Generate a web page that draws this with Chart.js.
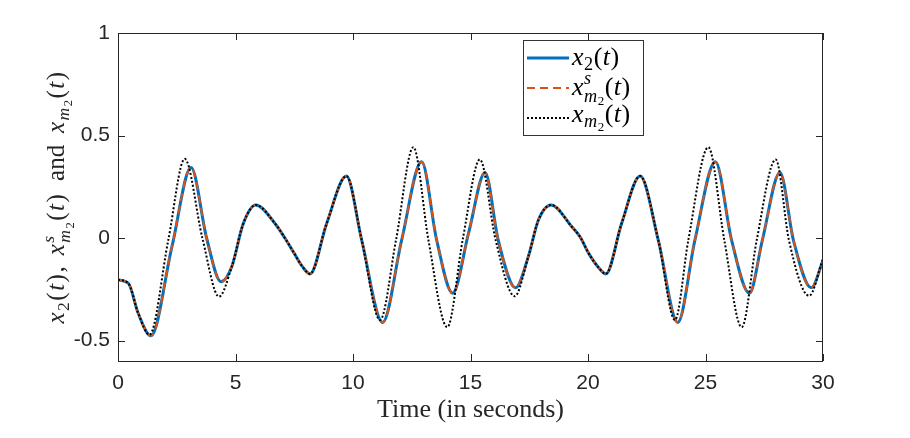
<!DOCTYPE html>
<html>
<head>
<meta charset="utf-8">
<title>x2(t) and model outputs</title>
<script src="https://cdn.jsdelivr.net/npm/chart.js@4.4.0/dist/chart.umd.min.js"></script>
<style>
  html, body { margin: 0; padding: 0; background: #fff; }
  canvas { display: block; }
</style>
</head>
<body>
<canvas id="trajChart" width="910" height="438"></canvas>
<script>
// --- values (time in s) ---
const tX2 = [0, 0.44, 0.86, 1.40, 2.30, 3.11, 3.77, 4.38, 4.84, 5.33, 5.86, 6.68, 7.10, 7.50, 7.85, 8.17,
  8.88, 9.72, 10.37, 11.26, 12.07, 12.92, 13.56, 14.24, 14.93, 15.62, 16.18, 16.92, 17.46, 17.89, 18.43,
  19.31, 19.66, 20.03, 20.42, 20.76, 21.43, 22.22, 22.99, 23.82, 24.55, 25.42, 26.11, 26.87, 27.42,
  28.17, 28.74, 29.50, 30];
const x2 = [-0.204, -0.221, -0.367, -0.477, -0.04, 0.344, 0.0, -0.213, -0.14, 0.07, 0.161, 0.071, 0.0, -0.075, -0.14, -0.175,
  0.071, 0.302, -0.01, -0.412, -0.01, 0.372, -0.01, -0.269, 0.03, 0.32, -0.01, -0.243, -0.091, 0.088, 0.161,
  0.055, 0.006, -0.075, -0.14, -0.175, 0.071, 0.302, -0.01, -0.412, -0.01, 0.372, -0.01, -0.27, -0.01,
  0.32, -0.01, -0.243, -0.11];
// dashed curve lies right on top of x2 in the picture
const xsM2 = [-0.204, -0.221, -0.367, -0.477, -0.04, 0.344, 0.0, -0.213, -0.14, 0.07, 0.161, 0.071, 0.0, -0.075, -0.14, -0.175,
  0.071, 0.302, -0.01, -0.412, -0.01, 0.372, -0.01, -0.269, 0.03, 0.32, -0.01, -0.243, -0.091, 0.088, 0.161,
  0.055, 0.006, -0.075, -0.14, -0.175, 0.071, 0.302, -0.01, -0.412, -0.01, 0.372, -0.01, -0.27, -0.01,
  0.32, -0.01, -0.243, -0.11];

const tXm2 = [0, 0.44, 0.86, 1.34, 2.14, 2.84, 3.59, 4.30, 4.84, 5.33, 5.86, 6.68, 7.10, 7.50, 7.85, 8.17,
  8.88, 9.72, 10.37, 11.15, 11.83, 12.57, 13.21, 14.01, 14.68, 15.40, 16.07, 16.88, 17.46, 17.89, 18.43,
  19.31, 19.66, 20.03, 20.42, 20.76, 21.43, 22.22, 22.99, 23.70, 24.27, 25.12, 25.80, 26.54, 27.18,
  27.99, 28.55, 29.41, 30];
const xm2 = [-0.204, -0.221, -0.367, -0.472, -0.01, 0.386, 0.0, -0.286, -0.14, 0.07, 0.161, 0.071, 0.0, -0.075, -0.14, -0.175,
  0.071, 0.302, -0.01, -0.40, -0.01, 0.443, -0.01, -0.435, 0.0, 0.383, -0.01, -0.284, -0.091, 0.088, 0.161,
  0.055, 0.006, -0.075, -0.14, -0.175, 0.071, 0.302, -0.01, -0.40, -0.01, 0.443, -0.01, -0.435, -0.01,
  0.383, -0.01, -0.282, -0.10];

const xTicks = [0, 5, 10, 15, 20, 25, 30];
const yTicks = [-0.5, 0, 0.5, 1];

const axisColor = '#262626';
const blue = '#0072BD';
const orange = '#D95319';

function toPoints(ts, vs) {
  return ts.map((t, i) => ({ x: t, y: vs[i] }));
}

// --- tiny math-text helper: pieces with italic / size factor / baseline shift ---
const SERIF = '"Liberation Serif", "Times New Roman", serif';
const X2_TXT = [{ s: 'x', it: 1 }, { s: '2', k: 0.7, dy: 0.2 }, { s: '(' }, { s: 't', it: 1 }, { s: ')' }];
const XSM2_TXT = [{ s: 'x', it: 1 }, { s: 's', it: 1, k: 0.7, dy: -0.42, adv: false },
  { s: 'm', it: 1, k: 0.7, dy: 0.25 }, { s: '2', k: 0.5, dy: 0.38 }, { s: '(' }, { s: 't', it: 1 }, { s: ')' }];
const XM2_TXT = [{ s: 'x', it: 1 }, { s: 'm', it: 1, k: 0.7, dy: 0.2 }, { s: '2', k: 0.5, dy: 0.33 },
  { s: '(' }, { s: 't', it: 1 }, { s: ')' }];
// separators take up the slack ("flex") when the label is stretched; lead = share of slack before the text
const YLABEL_TXT = [].concat(X2_TXT, [{ s: ',', flex: 1, lead: 0 }], XSM2_TXT,
  [{ s: ' and ', flex: 1, lead: 0.5 }], XM2_TXT);

// draws (or just measures) pieces; pad = extra px after every piece, gap = slack for "flex" pieces
function mathText(ctx, parts, x, y, size, draw, gap, pad) {
  let cx = x;
  gap = gap || 0;
  pad = pad || 0;
  parts.forEach(p => {
    const fs = size * (p.k || 1);
    ctx.font = (p.it ? 'italic ' : '') + fs + 'px ' + SERIF;
    const before = p.flex ? gap * p.lead : 0;
    if (draw) ctx.fillText(p.s, cx + before, y + (p.dy || 0) * size);
    if (p.adv !== false) cx += ctx.measureText(p.s).width + (p.flex ? gap : pad);
  });
  return cx - x;
}

function fitGap(ctx, parts, size, target, pad) {
  const w = mathText(ctx, parts, 0, 0, size, false, 0, pad);
  const n = parts.filter(p => p.flex).length;
  return n ? Math.max(0, (target - w) / n) : 0;
}

const framePlugin = {
  id: 'frame',
  afterDraw(chart) {
    const ctx = chart.ctx;
    const a = chart.chartArea;
    const xs = chart.scales.x, ys = chart.scales.y;
    ctx.save();

    // box and inward ticks on all four sides
    ctx.strokeStyle = axisColor;
    ctx.lineWidth = 1;
    ctx.strokeRect(a.left + 0.5, a.top + 0.5, a.right - a.left - 1, a.bottom - a.top);
    const tl = 7;
    ctx.beginPath();
    xTicks.forEach(v => {
      const px = Math.round(xs.getPixelForValue(v)) + 0.5;
      ctx.moveTo(px, a.bottom); ctx.lineTo(px, a.bottom - tl);
      ctx.moveTo(px, a.top); ctx.lineTo(px, a.top + tl);
    });
    yTicks.forEach(v => {
      const py = Math.round(ys.getPixelForValue(v)) + 0.5;
      ctx.moveTo(a.left, py); ctx.lineTo(a.left + tl, py);
      ctx.moveTo(a.right, py); ctx.lineTo(a.right - tl, py);
    });
    ctx.stroke();

    ctx.fillStyle = axisColor;
    ctx.textBaseline = 'alphabetic';
    ctx.textAlign = 'left';

    // x axis title
    ctx.font = '26px ' + SERIF;
    const xt = 'Time (in seconds)';
    const xfs = 26 * 187 / ctx.measureText(xt).width;
    ctx.font = xfs + 'px ' + SERIF;
    ctx.textAlign = 'center';
    ctx.fillText(xt, (a.left + a.right) / 2, 417);
    ctx.textAlign = 'left';

    // y axis title (rotated)
    const ySize = 25, yPad = 1.5;
    const yGap = fitGap(ctx, YLABEL_TXT, ySize, 253, yPad);
    ctx.save();
    ctx.translate(64, (a.top + a.bottom) / 2);
    ctx.rotate(-Math.PI / 2);
    mathText(ctx, YLABEL_TXT, -253 / 2, 0, ySize, true, yGap, yPad);
    ctx.restore();

    // legend
    ctx.fillStyle = '#fff';
    ctx.fillRect(523, 41, 121, 95);
    ctx.strokeStyle = '#333';
    ctx.lineWidth = 1;
    ctx.strokeRect(523.5, 40.5, 120, 95);
    const rows = [
      { y: 58, color: blue, w: 3, dash: [], txt: X2_TXT, base: 65 },
      { y: 88, color: orange, w: 2, dash: [8, 5], txt: XSM2_TXT, base: 95 },
      { y: 118, color: '#000', w: 2, dash: [2, 2], txt: XM2_TXT, base: 122 }
    ];
    const lSize = 26;
    rows.forEach(r => {
      ctx.beginPath();
      ctx.strokeStyle = r.color;
      ctx.lineWidth = r.w;
      ctx.setLineDash(r.dash);
      ctx.moveTo(527, r.y); ctx.lineTo(569, r.y);
      ctx.stroke();
      ctx.setLineDash([]);
      ctx.fillStyle = '#000';
      mathText(ctx, r.txt, 572, r.base, lSize, true, 0, 0.5);
    });
    ctx.restore();
  }
};

const tickFont = { family: '"Liberation Sans", Arial, sans-serif', size: 21 };

new Chart(document.getElementById('trajChart').getContext('2d'), {
  type: 'line',
  data: {
    datasets: [
      { label: 'x2(t)', data: toPoints(tX2, x2), borderColor: blue, borderWidth: 3, order: 3 },
      { label: 'xs_m2(t)', data: toPoints(tX2, xsM2), borderColor: orange, borderWidth: 2, borderDash: [8, 5], order: 2 },
      { label: 'x_m2(t)', data: toPoints(tXm2, xm2), borderColor: '#000', borderWidth: 2, borderDash: [2, 2], order: 1 }
    ]
  },
  options: {
    responsive: false,
    animation: false,
    layout: { padding: { left: 0, right: 87, top: 33, bottom: 0 } },
    elements: {
      point: { radius: 0 },
      line: { cubicInterpolationMode: 'monotone', fill: false }
    },
    plugins: { legend: { display: false }, tooltip: { enabled: false } },
    scales: {
      x: {
        type: 'linear', min: 0, max: 30,
        afterBuildTicks: s => { s.ticks = xTicks.map(v => ({ value: v })); },
        afterFit: s => { s.height = 77; },
        grid: { display: false, drawTicks: false },
        border: { display: false },
        ticks: { padding: 10, color: axisColor, font: tickFont, maxRotation: 0, autoSkip: false, callback: v => String(v) }
      },
      y: {
        type: 'linear', min: -0.6, max: 1,
        afterBuildTicks: s => { s.ticks = yTicks.map(v => ({ value: v })); },
        afterFit: s => { s.width = 118; },
        grid: { display: false, drawTicks: false },
        border: { display: false },
        ticks: { padding: 8, color: axisColor, font: tickFont, autoSkip: false, callback: v => String(v) }
      }
    }
  },
  plugins: [framePlugin]
});
</script>
</body>
</html>
